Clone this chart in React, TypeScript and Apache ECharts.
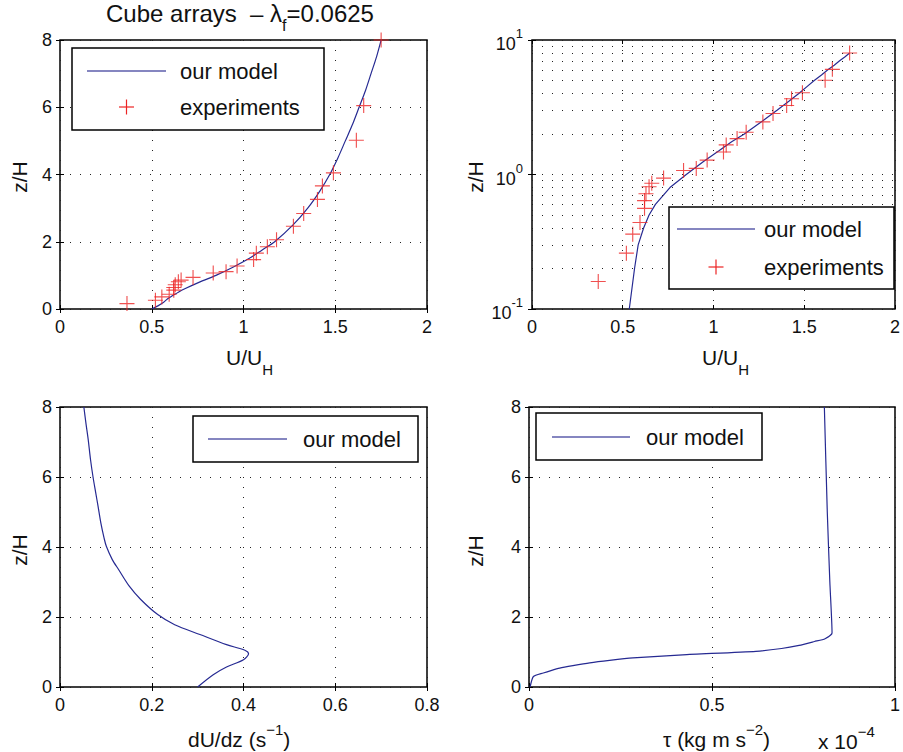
import React, { useEffect, useRef } from 'react';
import * as echarts from 'echarts';

const FONT = '"Liberation Sans", Arial, Helvetica, sans-serif';
const BLUE = '#262a92';
const LEGEND_BLUE = '#5c5eab';
const RED = '#ec2424';
const INK = '#111111';

// ---------- data ----------
// model mean velocity profile (z/H, U/U_H)
const modelZ = [0, 0.1, 0.2, 0.3, 0.4, 0.5, 0.6, 0.8, 1.0, 1.25, 1.5, 1.75, 2.0, 2.5, 3.0, 3.5, 4.0, 4.5, 5.0, 5.5, 6.0, 6.5, 7.0, 7.5, 8.0];
const modelU = [0.5, 0.536, 0.565, 0.585, 0.615, 0.645, 0.68, 0.76, 0.85, 0.945, 1.03, 1.1, 1.17, 1.27, 1.35, 1.415, 1.47, 1.515, 1.555, 1.595, 1.63, 1.665, 1.695, 1.725, 1.75];

// experiments
const expU = [0.365, 0.52, 0.555, 0.595, 0.62, 0.62, 0.628, 0.645, 0.66, 0.725, 0.835, 0.905, 0.965, 1.055, 1.07, 1.13, 1.18, 1.272, 1.328, 1.403, 1.43, 1.49, 1.615, 1.655, 1.75];
const expZ = [0.16, 0.26, 0.36, 0.44, 0.56, 0.64, 0.72, 0.81, 0.86, 0.94, 1.07, 1.11, 1.28, 1.47, 1.66, 1.85, 2.06, 2.46, 2.84, 3.26, 3.66, 4.05, 5.02, 6.05, 8.0];

// shear dU/dz (s^-1)
const shearZ = [0, 0.35, 0.57, 0.78, 0.95, 1.05, 1.21, 1.5, 1.78, 2.07, 2.5, 2.88, 3.35, 3.64, 4.02, 4.26, 4.69, 5.16, 5.54, 6.0, 6.5, 7.07, 7.54, 8.0];
const shearV = [0.3, 0.334, 0.363, 0.4, 0.411, 0.403, 0.363, 0.305, 0.25, 0.213, 0.176, 0.151, 0.128, 0.114, 0.101, 0.096, 0.089, 0.083, 0.078, 0.072, 0.0665, 0.0615, 0.0565, 0.052];

// shear stress tau (x 1e-4 kg m s^-2)
const stressZ = [0, 0.3, 0.4, 0.47, 0.54, 0.61, 0.69, 0.76, 0.83, 0.92, 1.02, 1.1, 1.19, 1.3, 1.38, 1.54, 3.0, 5.0, 8.0];
const stressV = [0.003, 0.012, 0.039, 0.06, 0.084, 0.12, 0.166, 0.22, 0.284, 0.42, 0.62, 0.69, 0.738, 0.78, 0.809, 0.828, 0.822, 0.815, 0.807];

// axis ticks
const uTicks = { min: 0, max: 2, interval: 0.5 };
const zTicks = { min: 0, max: 8, interval: 2 };
const shearTicks = { min: 0, max: 0.8, interval: 0.2 };
const stressTicks = { min: 0, max: 1, interval: 0.5 };
const logRange = { min: 0.1, max: 10 };
const logMinor = [0.2, 0.3, 0.4, 0.5, 0.6, 0.7, 0.8, 0.9, 2, 3, 4, 5, 6, 7, 8, 9];

const PLUS = 'path://M7.4,0h1.2v16h-1.2zM0,7.4h16v1.2h-16z';

const fmtNum = (v: number) => String(Math.round(v * 100) / 100);

const GRIDS = [
  { left: 60, top: 40, width: 367, height: 269 },
  { left: 532, top: 40, width: 364, height: 269 },
  { left: 60, top: 407, width: 367, height: 280 },
  { left: 529, top: 407, width: 367, height: 280 },
];

const gridLineStyle = { color: '#222', width: 1, type: [1, 9] as any };
const tickStyle = { show: true, inside: true, length: 4, lineStyle: { color: '#000', width: 1 } };
const labelBase = { color: INK, fontSize: 18, fontFamily: FONT };

function mainAxis(gridIndex: number, r: any, position: string, margin: number) {
  return {
    type: 'value', gridIndex, min: r.min, max: r.max, interval: r.interval, position,
    axisLine: { show: false }, axisTick: tickStyle,
    axisLabel: { ...labelBase, margin, formatter: fmtNum },
    splitLine: { show: true, lineStyle: gridLineStyle },
  };
}
function mirrorAxis(gridIndex: number, r: any, position: string) {
  return {
    type: 'value', gridIndex, min: r.min, max: r.max, interval: r.interval, position,
    axisLine: { show: false }, axisTick: tickStyle, axisLabel: { show: false }, splitLine: { show: false },
  };
}
const logLabelRich = {
  b: { fontSize: 18, fontFamily: FONT, color: INK, lineHeight: 26, verticalAlign: 'bottom' },
  s: { fontSize: 13, fontFamily: FONT, color: INK, lineHeight: 16, verticalAlign: 'top' },
};
function logAxis(gridIndex: number, position: string, labels: boolean) {
  return {
    type: 'log', logBase: 10, gridIndex, min: logRange.min, max: logRange.max, position,
    axisLine: { show: false }, axisTick: tickStyle,
    axisLabel: labels ? {
      margin: 9,
      formatter: (v: number) => `{b|10}{s|${Math.round(Math.log10(v))}}`,
      rich: logLabelRich,
    } : { show: false },
    splitLine: { show: labels, lineStyle: gridLineStyle },
  };
}

function legendGraphics(box: any, rows: any[]) {
  const els: any[] = [{
    type: 'rect', z: 100,
    shape: { x: box.x, y: box.y, width: box.w, height: box.h },
    style: { fill: '#fff', stroke: '#000', lineWidth: 1.5 },
  }];
  rows.forEach((r) => {
    if (r.kind === 'line') {
      els.push({ type: 'line', z: 101, shape: { x1: box.l1, y1: r.y, x2: box.l2, y2: r.y }, style: { stroke: LEGEND_BLUE, lineWidth: 1.6 } });
    } else {
      const cx = (box.l1 + box.l2) / 2;
      els.push({ type: 'line', z: 101, shape: { x1: cx - 7.5, y1: r.y, x2: cx + 7.5, y2: r.y }, style: { stroke: RED, lineWidth: 1.2 } });
      els.push({ type: 'line', z: 101, shape: { x1: cx, y1: r.y - 7.5, x2: cx, y2: r.y + 7.5 }, style: { stroke: RED, lineWidth: 1.2 } });
    }
    els.push({ type: 'text', z: 101, x: box.tx, y: r.y, style: { text: r.name, fontSize: 22, fontFamily: FONT, fill: INK, align: 'left', verticalAlign: 'middle' } });
  });
  return els;
}

const subRich = {
  a: { fontSize: 21, fontFamily: FONT, color: INK, lineHeight: 30, verticalAlign: 'top' },
  s: { fontSize: 15, fontFamily: FONT, color: INK, lineHeight: 15, verticalAlign: 'bottom' },
};
const titleRich = {
  a: { fontSize: 24, fontFamily: FONT, color: INK, lineHeight: 32, verticalAlign: 'top' },
  s: { fontSize: 16, fontFamily: FONT, color: INK, lineHeight: 16, verticalAlign: 'bottom' },
};
const supRich = {
  a: { fontSize: 21, fontFamily: FONT, color: INK, lineHeight: 28, verticalAlign: 'bottom' },
  s: { fontSize: 15, fontFamily: FONT, color: INK, lineHeight: 15, verticalAlign: 'top' },
};

function txt(x: number, y: number, text: string, rich: any, align = 'left', rotation = 0) {
  return {
    type: 'text', x, y, rotation, z: 50,
    style: { text, rich, fill: INK, fontSize: 21, fontFamily: FONT, align, verticalAlign: 'middle' },
  };
}

function buildOption() {
  const modelPairs = modelZ.map((z, i) => [modelU[i], z]);
  const modelPairsLog = modelPairs.filter((p) => p[1] > 0);
  const expPairs = expZ.map((z, i) => [expU[i], z]);
  const shearPairs = shearZ.map((z, i) => [shearV[i], z]);
  const stressPairs = stressZ.map((z, i) => [stressV[i], z]);

  const lineSeries = (idx: number, data: any[], extra: any = {}) => ({
    type: 'line', name: 'our model', xAxisIndex: idx, yAxisIndex: idx, data,
    showSymbol: false, symbol: 'none', lineStyle: { color: BLUE, width: 1.2 }, z: 3, ...extra,
  });
  const scatterSeries = (idx: number) => ({
    type: 'scatter', name: 'experiments', xAxisIndex: idx, yAxisIndex: idx, data: expPairs,
    symbol: PLUS, symbolSize: 15, itemStyle: { color: RED }, z: 4,
  });

  return {
    animation: false,
    backgroundColor: '#fff',
    textStyle: { fontFamily: FONT },
    grid: GRIDS.map((g) => ({ ...g, show: true, borderColor: '#000', borderWidth: 1.5, backgroundColor: '#fff' })),
    xAxis: [
      mainAxis(0, uTicks, 'bottom', 9),
      mainAxis(1, uTicks, 'bottom', 9),
      mainAxis(2, shearTicks, 'bottom', 9),
      mainAxis(3, stressTicks, 'bottom', 9),
      mirrorAxis(0, uTicks, 'top'),
      mirrorAxis(1, uTicks, 'top'),
      mirrorAxis(2, shearTicks, 'top'),
      mirrorAxis(3, stressTicks, 'top'),
    ],
    yAxis: [
      mainAxis(0, zTicks, 'left', 8),
      logAxis(1, 'left', true),
      mainAxis(2, zTicks, 'left', 8),
      mainAxis(3, zTicks, 'left', 8),
      mirrorAxis(0, zTicks, 'right'),
      logAxis(1, 'right', false),
      mirrorAxis(2, zTicks, 'right'),
      mirrorAxis(3, zTicks, 'right'),
    ],
    series: [
      lineSeries(0, modelPairs, { smooth: 0.25 }),
      scatterSeries(0),
      lineSeries(1, modelPairsLog, {
        markLine: {
          silent: true, symbol: ['none', 'none'], label: { show: false }, animation: false,
          lineStyle: gridLineStyle, emphasis: { disabled: true },
          data: logMinor.map((v) => ({ yAxis: v })),
        },
      }),
      scatterSeries(1),
      lineSeries(2, shearPairs, { smooth: 0.3 }),
      lineSeries(3, stressPairs, { smooth: 0.2 }),
    ],
    graphic: {
      elements: [
        txt(240, 17, '{a|Cube arrays  – λ}{s|f}{a|=0.0625}', titleRich, 'center'),
        txt(226, 362, '{a|U/U}{s|H}', subRich),
        txt(702, 362, '{a|U/U}{s|H}', subRich),
        txt(188, 736, '{a|dU/dz (s}{s|−1}{a|)}', supRich),
        txt(663, 736, '{a|τ (kg m s}{s|−2}{a|)}', supRich),
        txt(818, 738, '{a|x 10}{s|−4}', supRich),
        txt(19, 177, 'z/H', {}, 'center', Math.PI / 2),
        txt(475, 177, 'z/H', {}, 'center', Math.PI / 2),
        txt(19, 550, 'z/H', {}, 'center', Math.PI / 2),
        txt(475, 551, 'z/H', {}, 'center', Math.PI / 2),
        ...legendGraphics({ x: 72, y: 48, w: 252, h: 82, l1: 87, l2: 166, tx: 180 }, [
          { kind: 'line', name: 'our model', y: 71 }, { kind: 'plus', name: 'experiments', y: 107 },
        ]),
        ...legendGraphics({ x: 669, y: 207, w: 225, h: 82, l1: 677, l2: 755, tx: 764 }, [
          { kind: 'line', name: 'our model', y: 229 }, { kind: 'plus', name: 'experiments', y: 267 },
        ]),
        ...legendGraphics({ x: 193, y: 416, w: 225, h: 46, l1: 208, l2: 287, tx: 303 }, [
          { kind: 'line', name: 'our model', y: 439 },
        ]),
        ...legendGraphics({ x: 536, y: 413, w: 226, h: 47, l1: 552, l2: 630, tx: 646 }, [
          { kind: 'line', name: 'our model', y: 437 },
        ]),
      ],
    },
  };
}

export default function App() {
  const ref = useRef<HTMLDivElement>(null);
  useEffect(() => {
    if (!ref.current) return;
    const chart = echarts.init(ref.current, null, { renderer: 'svg' });
    chart.setOption(buildOption() as any);
    return () => chart.dispose();
  }, []);
  return (
    <div
      ref={ref}
      style={{ position: 'fixed', left: 0, top: 0, width: 903, height: 752, background: '#fff' }}
    />
  );
}
